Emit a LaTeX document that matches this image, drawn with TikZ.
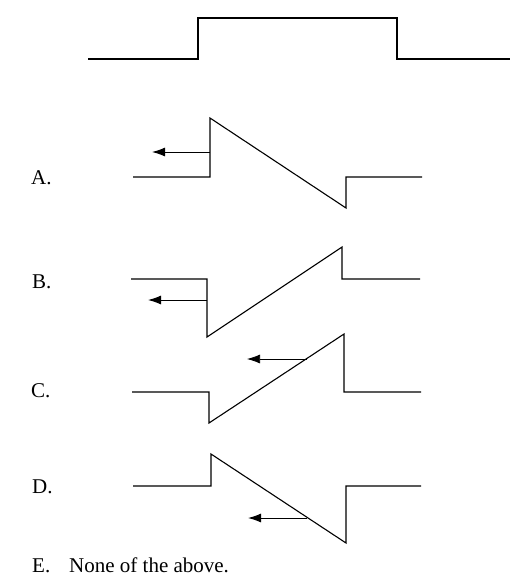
\documentclass[tikz,border=0pt]{standalone}
\usepackage{fontspec}
\setmainfont{Liberation Serif}
\usetikzlibrary{arrows.meta}
\tikzset{
  wave/.style={line width=1.1pt, line join=miter},
  pointer/.style={line width=1pt, -{Latex[length=13pt,width=9pt]}},
  thinpointer/.style={line width=0.7pt, -{Latex[length=13pt,width=9pt]}},
  lbl/.style={anchor=base west, inner sep=0pt, font=\fontsize{21}{25}\selectfont}
}
\begin{document}
\begin{tikzpicture}[x=1pt,y=-1pt]
\useasboundingbox (0,0) rectangle (520,587);
% top pulse
\draw[wave] (88,59) -- (198,59) -- (198,18) -- (397,18) -- (397,59) -- (510,59);
% A
\draw[wave] (133,177) -- (210,177) -- (210,118) -- (346,208) -- (346,177) -- (422,177);
\coordinate (aS) at (210,152); \coordinate (aE) at (152,152);
\draw[pointer] (aS) -- (aE);
\node[lbl] (la) at (31,184) {A.};
% B
\draw[wave] (131,279) -- (207,279) -- (207,337) -- (342,247) -- (342,279) -- (420,279);
\coordinate (bS) at (207,300); \coordinate (bE) at (148,300);
\draw[pointer] (bS) -- (bE);
\node[lbl] (lb) at (32,288) {B.};
% C
\draw[wave] (132,392) -- (209,392) -- (209,423) -- (344,334) -- (344,392) -- (421,392);
\coordinate (cS) at (307,359); \coordinate (cE) at (247,359);
\draw[thinpointer] (cS) -- (cE);
\node[lbl] (lc) at (31,397) {C.};
% D
\draw[wave] (133,486) -- (211,486) -- (211,454) -- (346,543) -- (346,486) -- (421,486);
\coordinate (dS) at (307,518); \coordinate (dE) at (248,518);
\draw[pointer] (dS) -- (dE);
\node[lbl] (ld) at (32,493) {D.};
% E
\node[lbl] (le) at (32,572) {E.};
\node[lbl] (lne) at (69,572) {None of the above.};
\end{tikzpicture}
\end{document}
